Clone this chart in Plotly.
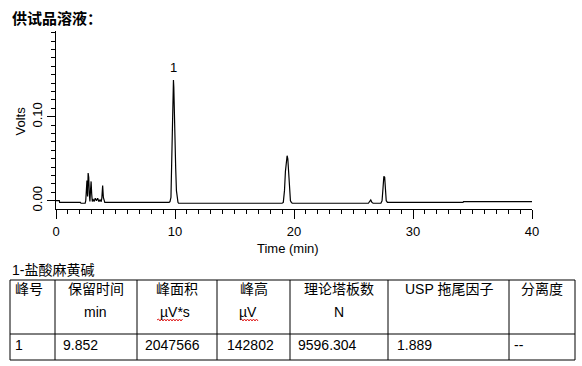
import plotly.graph_objects as go

# ---------------- data ----------------
time_min = [0, 0.28, 0.3, 2.05, 2.1, 2.45, 2.5, 2.55, 2.6, 2.65, 2.7, 2.75, 2.8, 2.85,
            2.9, 2.95, 3.0, 3.05, 3.1, 3.2, 3.3, 3.4, 3.5, 3.6, 3.7, 3.8, 3.85, 3.92,
            3.98, 4.05, 4.1, 9.5, 9.58, 9.66, 9.72, 9.78, 9.83, 9.87, 9.9, 9.94, 10.0,
            10.06, 10.12, 10.2, 10.25, 10.3, 19.0, 19.1, 19.2, 19.28, 19.36, 19.42,
            19.48, 19.55, 19.62, 19.7, 19.78, 19.85, 26.25, 26.35, 26.45, 26.55, 26.65,
            27.3, 27.4, 27.48, 27.55, 27.62, 27.68, 27.75, 27.85, 34.2, 34.25, 40]
volts = [0.000, 0.000, -0.002, -0.002, -0.003, -0.003, 0.000, 0.020, 0.024, 0.005,
         0.033, 0.028, 0.008, -0.001, 0.012, 0.023, 0.008, -0.001, 0.002, -0.001,
         0.003, 0.000, 0.003, -0.001, 0.001, -0.001, 0.003, 0.018, 0.004, -0.001,
         -0.002, -0.002, -0.001, 0.004, 0.040, 0.105, 0.143, 0.1437, 0.135, 0.095,
         0.070, 0.038, 0.012, 0.001, -0.002, -0.003, -0.003, -0.002, 0.012, 0.035,
         0.052, 0.0536, 0.050, 0.030, 0.010, 0.000, -0.002, -0.003, -0.003, 0.000,
         0.001, -0.002, -0.003, -0.003, 0.000, 0.015, 0.029, 0.028, 0.010, 0.000,
         -0.002, -0.002, -0.001, -0.001]

x_tick_values = [0, 10, 20, 30, 40]
y_tick_values = [0.0, 0.1]

peak_label = "1"
peak_time = 9.87
peak_height = 0.1437

page_title = "供试品溶液："
table_title = "1-盐酸麻黄碱"
headers = ["峰号", "保留时间", "峰面积", "峰高", "理论塔板数", "USP 拖尾因子", "分离度"]
units = ["", "min", "µV*s", "µV", "N", "", ""]
row_values = ["1", "9.852", "2047566", "142802", "9596.304", "1.889", "--"]

# ---------------- layout helpers ----------------
W, H = 582, 366
FONT = "Liberation Sans, Arial, Noto Sans CJK SC"


def px(x):
    return x / W


def py(y):
    return 1 - y / H


fig = go.Figure()
fig.add_trace(go.Scatter(x=time_min, y=volts, mode="lines",
                         line=dict(color="black", width=1.2), hoverinfo="skip",
                         showlegend=False))

fig.update_layout(
    width=W, height=H, margin=dict(l=0, r=0, t=0, b=0, autoexpand=False),
    paper_bgcolor="white", plot_bgcolor="white",
    font=dict(family=FONT, size=13, color="black"),
    xaxis=dict(domain=[px(56), px(532)], range=[0, 40], showline=True,
               automargin=False,
               linecolor="black", linewidth=1, ticks="outside", ticklen=9,
               tickwidth=1, tickcolor="black", tickmode="array",
               tickvals=x_tick_values,
               showgrid=False, zeroline=False, tickfont=dict(size=13),
               ticklabelstandoff=2,
               minor=dict(ticks="outside", ticklen=4, dtick=1, tick0=0,
                          tickcolor="black", showgrid=False)),
    yaxis=dict(domain=[py(208.7), py(30.7)], range=[-0.0095, 0.2025],
               automargin=False,
               showline=True, linecolor="black", linewidth=1, ticks="outside",
               ticklen=8, tickwidth=1, tickcolor="black", tickmode="array",
               tickvals=y_tick_values,
               tickformat=".2f", tickangle=-90, showgrid=False, zeroline=False,
               tickfont=dict(size=13),
               minor=dict(ticks="outside", ticklen=4, dtick=0.01, tick0=0,
                          tickcolor="black", showgrid=False)),
)

ann = []
# axis titles
ann.append(dict(x=px(287.5), y=py(248), xref="paper", yref="paper",
                text="Time (min)", showarrow=False, xanchor="center",
                yanchor="middle", font=dict(size=13)))
ann.append(dict(x=px(19.5), y=py(121), xref="paper", yref="paper",
                text="Volts", showarrow=False, textangle=-90, xanchor="center",
                yanchor="middle", font=dict(size=13)))
# peak label
ann.append(dict(x=peak_time, y=peak_height, xref="x", yref="y", text=peak_label,
                showarrow=False, xanchor="center", yanchor="bottom", yshift=3,
                font=dict(size=13)))
# page title
ann.append(dict(x=px(10), y=py(17), xref="paper", yref="paper",
                text="<b>" + page_title + "</b>", showarrow=False,
                xanchor="left", yanchor="middle",
                font=dict(size=15, family="Noto Sans CJK SC")))
# table title
ann.append(dict(x=px(10), y=py(270), xref="paper", yref="paper",
                text=table_title, showarrow=False, xanchor="left",
                yanchor="middle", font=dict(size=14)))

col_edges = [10, 55, 137, 217, 290, 388, 509, 575]
row_lines = [280, 334, 360]
unit_centers = [None, 95, 174.5, 248, 339, None, None]
value_pads = [3, 6, 6, 8, 6, 7, 3]

shapes = []
for yl in row_lines:
    shapes.append(dict(type="line", xref="paper", yref="paper",
                       x0=px(col_edges[0]), x1=px(col_edges[-1]),
                       y0=py(yl), y1=py(yl), line=dict(color="black", width=1)))
for xl in col_edges:
    shapes.append(dict(type="line", xref="paper", yref="paper",
                       x0=px(xl), x1=px(xl), y0=py(row_lines[0]),
                       y1=py(row_lines[-1]), line=dict(color="black", width=1)))

for i, h in enumerate(headers):
    left, right = col_edges[i], col_edges[i + 1]
    if i == 0:
        ann.append(dict(x=px(left + 3), y=py(288.5), xref="paper", yref="paper",
                        text=h, showarrow=False, xanchor="left", yanchor="middle",
                        font=dict(size=14)))
    else:
        ann.append(dict(x=px((left + right) / 2), y=py(288.5), xref="paper",
                        yref="paper", text=h, showarrow=False, xanchor="center",
                        yanchor="middle", font=dict(size=14)))
    if units[i]:
        ann.append(dict(x=px(unit_centers[i]), y=py(311.5), xref="paper",
                        yref="paper", text=units[i], showarrow=False,
                        xanchor="center", yanchor="middle", font=dict(size=14)))
    ann.append(dict(x=px(left + value_pads[i]), y=py(345), xref="paper",
                    yref="paper", text=row_values[i], showarrow=False,
                    xanchor="left", yanchor="middle", font=dict(size=14)))

# red wavy spell-check underlines under the µV units
for x0, x1 in [(157, 182), (240, 257)]:
    path = f"M {px(x0)} {py(320)}"
    xx, up = x0, True
    while xx < x1:
        xx += 1.5
        path += f" L {px(xx)} {py(319 if up else 321)}"
        up = not up
    shapes.append(dict(type="path", xref="paper", yref="paper", path=path,
                       line=dict(color="#e02020", width=1)))

fig.update_layout(annotations=ann, shapes=shapes)
fig.write_html("out.html")
